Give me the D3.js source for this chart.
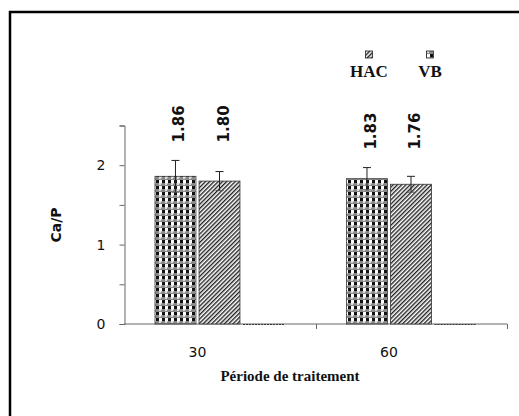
<!DOCTYPE html>
<html>
<head>
<meta charset="utf-8">
<script src="https://cdn.jsdelivr.net/npm/d3@7"></script>
<style>
  body { margin: 0; background: #fff; }
</style>
</head>
<body>
<div id="chart"></div>
<script>
// Data.
const periods = ["30", "60"];
const seriesNames = ["HAC", "VB", ""];
const hacValues = [1.86, 1.83];
const vbValues = [1.80, 1.76];
const emptyValues = [0, 0];
const hacErrors = [0.20, 0.14];
const vbErrors = [0.12, 0.10];
const yTicks = [0, 0.5, 1, 1.5, 2, 2.5];

const width = 519;
const height = 416;

const svg = d3.select("#chart")
    .append("svg")
    .attr("width", width)
    .attr("height", height);

// Fill patterns for the two series.
const defs = svg.append("defs");
const grid = defs.append("pattern")
    .attr("id", "grid")
    .attr("patternUnits", "userSpaceOnUse")
    .attr("width", 6)
    .attr("height", 6);
grid.append("rect").attr("width", 6).attr("height", 6).attr("fill", "#fff");
grid.append("rect").attr("x", 0).attr("width", 3).attr("height", 3.5).attr("fill", "#111");
grid.append("rect").attr("y", 3.5).attr("width", 6).attr("height", 2.5).attr("fill", "#8a8a8a");
grid.append("rect").attr("x", 3).attr("y", 3.5).attr("width", 2).attr("height", 1.2).attr("fill", "#fff");

const hatch = defs.append("pattern")
    .attr("id", "hatch")
    .attr("patternUnits", "userSpaceOnUse")
    .attr("width", 3)
    .attr("height", 3)
    .attr("patternTransform", "rotate(45)");
hatch.append("rect").attr("width", 3).attr("height", 3).attr("fill", "#fff");
hatch.append("rect").attr("width", 1.4).attr("height", 3).attr("fill", "#222");

const fills = { "HAC": "url(#grid)", "VB": "url(#hatch)", "": "none" };

// Outer frame.
svg.append("rect")
    .attr("x", 10).attr("y", 12)
    .attr("width", 600).attr("height", 500)
    .attr("fill", "none")
    .attr("stroke", "#000")
    .attr("stroke-width", 2.5);

// Scales.
const x = d3.scaleBand()
    .domain(periods)
    .range([124, 507])
    .paddingInner(0)
    .paddingOuter(0);

const xInner = d3.scaleBand()
    .domain(seriesNames)
    .range([31, 160])
    .paddingInner(0.07);

const y = d3.scaleLinear()
    .domain([0, 2.5])
    .range([324, 125.5]);

// Build the bar table from the arrays.
const bars = [];
periods.forEach((p, i) => {
    bars.push({ period: p, series: "HAC", value: hacValues[i], err: hacErrors[i] });
    bars.push({ period: p, series: "VB", value: vbValues[i], err: vbErrors[i] });
    bars.push({ period: p, series: "", value: emptyValues[i], err: 0 });
});

// X axis line with ticks at band edges.
svg.append("line")
    .attr("x1", 124).attr("x2", 507)
    .attr("y1", y(0)).attr("y2", y(0))
    .attr("stroke", "#666");
svg.selectAll(".xtick")
    .data(periods)
    .enter()
    .append("line")
    .attr("x1", d => Math.round(x(d) + x.bandwidth()) + 0.5)
    .attr("x2", d => Math.round(x(d) + x.bandwidth()) + 0.5)
    .attr("y1", y(0))
    .attr("y2", y(0) + 5)
    .attr("stroke", "#666");

// Bars.
svg.selectAll(".bar")
    .data(bars.filter(d => d.series !== ""))
    .enter()
    .append("rect")
    .attr("x", d => x(d.period) + xInner(d.series))
    .attr("y", d => y(d.value))
    .attr("width", xInner.bandwidth())
    .attr("height", d => y(0) - y(d.value))
    .attr("fill", d => fills[d.series])
    .attr("stroke", "#333")
    .attr("stroke-width", 0.8);

// Empty third series sits on the axis as a dotted line.
svg.selectAll(".empty")
    .data(bars.filter(d => d.series === ""))
    .enter()
    .append("line")
    .attr("x1", d => x(d.period) + xInner(d.series))
    .attr("x2", d => x(d.period) + xInner(d.series) + xInner.bandwidth())
    .attr("y1", d => y(d.value) + 0.5)
    .attr("y2", d => y(d.value) + 0.5)
    .attr("stroke", "#333")
    .attr("stroke-dasharray", "2,1");

// Error bars.
const errBars = bars.filter(d => d.series !== "");
const cx = d => x(d.period) + xInner(d.series) + xInner.bandwidth() / 2;
svg.selectAll(".err")
    .data(errBars)
    .enter()
    .append("line")
    .attr("x1", cx).attr("x2", cx)
    .attr("y1", d => y(d.value + d.err))
    .attr("y2", d => y(d.value - d.err))
    .attr("stroke", "#222");
svg.selectAll(".capTop")
    .data(errBars)
    .enter()
    .append("line")
    .attr("x1", d => cx(d) - 4).attr("x2", d => cx(d) + 4)
    .attr("y1", d => y(d.value + d.err))
    .attr("y2", d => y(d.value + d.err))
    .attr("stroke", "#222");
svg.selectAll(".capBottom")
    .data(errBars)
    .enter()
    .append("line")
    .attr("x1", d => cx(d) - 4).attr("x2", d => cx(d) + 4)
    .attr("y1", d => y(d.value - d.err))
    .attr("y2", d => y(d.value - d.err))
    .attr("stroke", "#555");

// Value labels, rotated, above the highest error bar of each group.
const groupTop = {};
periods.forEach((p, i) => {
    groupTop[p] = Math.max(hacValues[i] + hacErrors[i], vbValues[i] + vbErrors[i]);
});
svg.selectAll(".vlabel")
    .data(errBars)
    .enter()
    .append("text")
    .attr("transform", d => `translate(${cx(d) + 9}, ${y(groupTop[d.period]) - 18}) rotate(-90)`)
    .attr("font-family", "DejaVu Sans, sans-serif")
    .attr("font-weight", "bold")
    .attr("font-size", 15)
    .attr("fill", "#111")
    .text(d => d.value.toFixed(2));

// Y axis.
const yAxis = svg.append("g")
    .attr("transform", "translate(124.5, 0)")
    .call(d3.axisLeft(y)
        .tickValues(yTicks)
        .tickSize(5)
        .tickPadding(14)
        .tickFormat(d => Number.isInteger(d) ? d3.format("d")(d) : ""));
yAxis.select(".domain").attr("stroke", "#666");
yAxis.selectAll(".tick line").attr("stroke", "#666");
yAxis.selectAll(".tick text")
    .attr("font-family", "DejaVu Sans, sans-serif")
    .attr("font-size", 14)
    .attr("fill", "#111");

// Category labels, centred under the two visible bars.
svg.selectAll(".xlabel")
    .data(periods)
    .enter()
    .append("text")
    .attr("x", d => x(d) + xInner("HAC") + (xInner("VB") + xInner.bandwidth() - xInner("HAC")) / 2)
    .attr("y", 357)
    .attr("text-anchor", "middle")
    .attr("font-family", "DejaVu Sans, sans-serif")
    .attr("font-size", 14)
    .attr("fill", "#111")
    .text(d => d);

// Axis titles.
svg.append("text")
    .attr("x", 290)
    .attr("y", 381)
    .attr("text-anchor", "middle")
    .attr("font-family", "Liberation Serif, serif")
    .attr("font-weight", "bold")
    .attr("font-size", 15)
    .attr("fill", "#111")
    .text("Période de traitement");

svg.append("text")
    .attr("transform", "translate(61, 225) rotate(-90)")
    .attr("text-anchor", "middle")
    .attr("font-family", "DejaVu Sans, sans-serif")
    .attr("font-weight", "bold")
    .attr("font-size", 14)
    .attr("fill", "#111")
    .text("Ca/P");

// Legend: small swatch above each name.
const legendX = { "HAC": 369, "VB": 430 };
const legendSwatch = { "HAC": "url(#hatch)", "VB": "url(#grid)" };
const legend = svg.selectAll(".legend")
    .data(seriesNames.filter(s => s !== ""))
    .enter()
    .append("g")
    .attr("transform", d => `translate(${legendX[d]}, 0)`);
legend.append("rect")
    .attr("x", -3.5).attr("y", 51)
    .attr("width", 7).attr("height", 7)
    .attr("fill", d => legendSwatch[d])
    .attr("stroke", "#222")
    .attr("stroke-width", 0.8);
legend.append("text")
    .attr("y", 77)
    .attr("text-anchor", "middle")
    .attr("font-family", "Liberation Serif, serif")
    .attr("font-weight", "bold")
    .attr("font-size", 17)
    .attr("fill", "#111")
    .text(d => d);
</script>
</body>
</html>
